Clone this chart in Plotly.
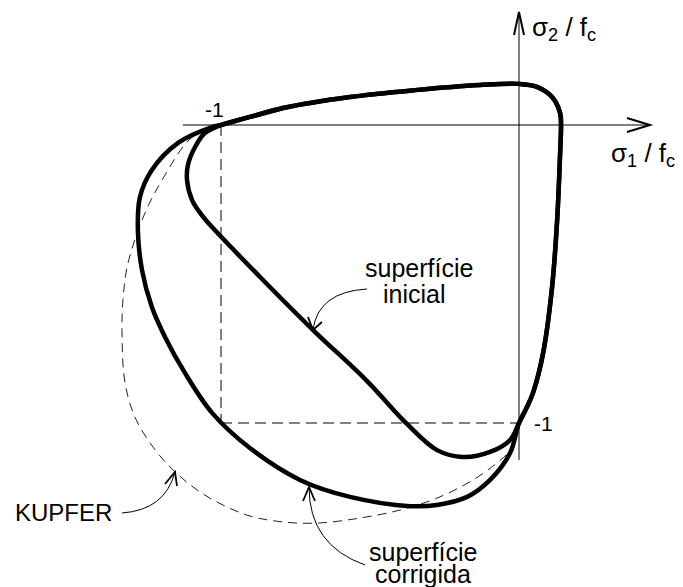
import plotly.graph_objects as go

# Biaxial failure envelope, stresses normalised by fc (sigma1/fc, sigma2/fc)

# Arc shared by both surfaces: from (-1, 0) over the top and down the right side to (0, -1)
arc_s1 = [-1.0, -0.903, -0.792, -0.567, -0.349, -0.131, 0.0, 0.060, 0.111, 0.138,
          0.141, 0.138, 0.128, 0.111, 0.081, 0.047, 0.027, 0.0]
arc_s2 = [0.0, 0.027, 0.057, 0.094, 0.117, 0.134, 0.138, 0.128, 0.094, 0.040,
          0.0, -0.094, -0.319, -0.544, -0.765, -0.899, -0.946, -1.0]

# Corrected surface, compression-compression branch from (0, -1) back to (-1, 0)
corr_s1 = [0.0, -0.030, -0.097, -0.174, -0.275, -0.366, -0.567, -0.735, -0.903, -1.030,
           -1.121, -1.188, -1.232, -1.265, -1.279, -1.272, -1.232, -1.144, -1.030, -1.0]
corr_s2 = [-1.0, -1.101, -1.191, -1.248, -1.275, -1.279, -1.248, -1.191, -1.084, -0.966,
           -0.832, -0.711, -0.611, -0.487, -0.352, -0.242, -0.151, -0.060, -0.007, 0.0]

# Initial surface, compression-compression branch from (0, -1) back to (-1, 0)
init_s1 = [0.0, -0.030, -0.097, -0.188, -0.275, -0.376, -0.513, -0.691, -0.869, -1.027,
           -1.067, -1.097, -1.114, -1.111, -1.087, -1.054, -1.0]
init_s2 = [-1.0, -1.057, -1.097, -1.114, -1.091, -1.003, -0.856, -0.688, -0.510, -0.346,
           -0.299, -0.252, -0.185, -0.134, -0.074, -0.027, 0.0]

# Kupfer experimental envelope
kupfer_s1 = [-1.0, -1.030, -1.104, -1.198, -1.255, -1.312, -1.329, -1.332, -1.322, -1.289,
             -1.228, -1.154, -1.054, -0.913, -0.792, -0.678, -0.534, -0.399, -0.275, -0.154,
             -0.074, -0.030, 0.0]
kupfer_s2 = [0.0, -0.007, -0.047, -0.185, -0.295, -0.463, -0.587, -0.711, -0.866, -0.980,
             -1.081, -1.164, -1.242, -1.309, -1.332, -1.336, -1.319, -1.292, -1.252, -1.191,
             -1.134, -1.091, -1.0]

# Uniaxial compression reference values
unit = -1.0

FONT = "Liberation Sans, Arial, sans-serif"
PX = 298.0  # pixels per stress unit on both axes
W, H = 683, 587
OX, OY = 519, 125  # origin in pixels

fig = go.Figure()

# reference square (uniaxial compression)
fig.add_trace(go.Scatter(x=[unit, unit], y=[0, unit], mode="lines",
                         line=dict(color="#808080", width=2, dash="11px,6px"),
                         hoverinfo="skip"))
fig.add_trace(go.Scatter(x=[unit, 0], y=[unit, unit], mode="lines",
                         line=dict(color="#808080", width=2, dash="11px,6px"),
                         hoverinfo="skip"))

# Kupfer
fig.add_trace(go.Scatter(x=kupfer_s1, y=kupfer_s2, mode="lines",
                         line=dict(color="#222222", width=1, dash="9px,6px", shape="spline"),
                         hoverinfo="skip"))

# axes
fig.add_trace(go.Scatter(x=[-1.128, 0.440], y=[0, 0], mode="lines",
                         line=dict(color="black", width=1), hoverinfo="skip"))
fig.add_trace(go.Scatter(x=[0, 0], y=[-1.124, 0.379], mode="lines",
                         line=dict(color="black", width=1), hoverinfo="skip"))

# corrected surface (closed loop, overlapped at the join for a smooth spline)
cx = arc_s1 + corr_s1[1:] + arc_s1[1:3]
cy = arc_s2 + corr_s2[1:] + arc_s2[1:3]
fig.add_trace(go.Scatter(x=cx, y=cy, mode="lines",
                         line=dict(color="black", width=4.5, shape="spline"),
                         hoverinfo="skip"))

# initial surface
ix = arc_s1 + init_s1[1:] + arc_s1[1:3]
iy = arc_s2 + init_s2[1:] + arc_s2[1:3]
fig.add_trace(go.Scatter(x=ix, y=iy, mode="lines",
                         line=dict(color="black", width=4.5, shape="spline"),
                         hoverinfo="skip"))


def p2d(px, py):
    return (px - OX) / PX, (OY - py) / PX


def path_pts(*pts):
    return " ".join(f"{x:.4f},{y:.4f}" for x, y in (p2d(*p) for p in pts))


shapes = []
# axis arrowheads (open)
shapes.append(dict(type="path", xref="x", yref="y",
                   path="M " + path_pts((627, 118)) + " L " + path_pts((650, 125)) +
                        " L " + path_pts((627, 132)),
                   line=dict(color="black", width=2)))
shapes.append(dict(type="path", xref="x", yref="y",
                   path="M " + path_pts((514, 35)) + " L " + path_pts((519, 12)) +
                        " L " + path_pts((524, 35)),
                   line=dict(color="black", width=2)))


def leader(start, ctrl, tip, arms):
    shapes.append(dict(type="path", xref="x", yref="y",
                       path="M " + path_pts(start) + " Q " + path_pts(ctrl) + " " + path_pts(tip),
                       line=dict(color="black", width=1)))
    shapes.append(dict(type="path", xref="x", yref="y",
                       path="M " + path_pts(arms[0]) + " L " + path_pts(tip) +
                            " L " + path_pts(arms[1]),
                       line=dict(color="black", width=1.8)))


leader((367, 289), (318, 292), (313, 330), ((308, 317), (322, 322)))
leader((122, 513), (165, 510), (175, 472), ((165, 484), (177, 486)))
leader((365, 565), (309, 545), (309, 487), ((303, 501), (315, 501)))

annotations = [
    dict(x=unit, y=0, text="-1", xshift=-7, yshift=2, xanchor="center", yanchor="bottom",
         font=dict(size=21)),
    dict(x=0, y=unit, text="-1", xshift=13, xanchor="left", yanchor="middle",
         font=dict(size=21)),
    dict(x=p2d(530, 0)[0], y=p2d(0, 10)[1], text="σ<sub>2</sub> / f<sub>c</sub>",
         xanchor="left", yanchor="top", font=dict(size=26)),
    dict(x=p2d(609, 0)[0], y=p2d(0, 136)[1], text="σ<sub>1</sub> / f<sub>c</sub>",
         xanchor="left", yanchor="top", font=dict(size=26)),
    dict(x=p2d(419, 0)[0], y=p2d(0, 268)[1], text="superfície", xanchor="center",
         yanchor="middle", font=dict(size=25)),
    dict(x=p2d(414, 0)[0], y=p2d(0, 294)[1], text="inicial", xanchor="center",
         yanchor="middle", font=dict(size=25)),
    dict(x=p2d(423, 0)[0], y=p2d(0, 552)[1], text="superfície", xanchor="center",
         yanchor="middle", font=dict(size=25)),
    dict(x=p2d(423, 0)[0], y=p2d(0, 574)[1], text="corrigida", xanchor="center",
         yanchor="middle", font=dict(size=25)),
    dict(x=p2d(63, 0)[0], y=p2d(0, 512)[1], text="KUPFER", xanchor="center",
         yanchor="middle", font=dict(size=24)),
]
for a in annotations:
    a.update(xref="x", yref="y", showarrow=False)
    a["font"].update(family=FONT, color="black")

fig.update_layout(
    width=W, height=H,
    margin=dict(l=0, r=0, t=0, b=0),
    paper_bgcolor="white", plot_bgcolor="white",
    showlegend=False,
    xaxis=dict(range=[-OX / PX, (W - OX) / PX], visible=False, fixedrange=True),
    yaxis=dict(range=[(OY - H) / PX, OY / PX], visible=False, fixedrange=True),
    shapes=shapes,
    annotations=annotations,
)

fig.write_html("out.html")
